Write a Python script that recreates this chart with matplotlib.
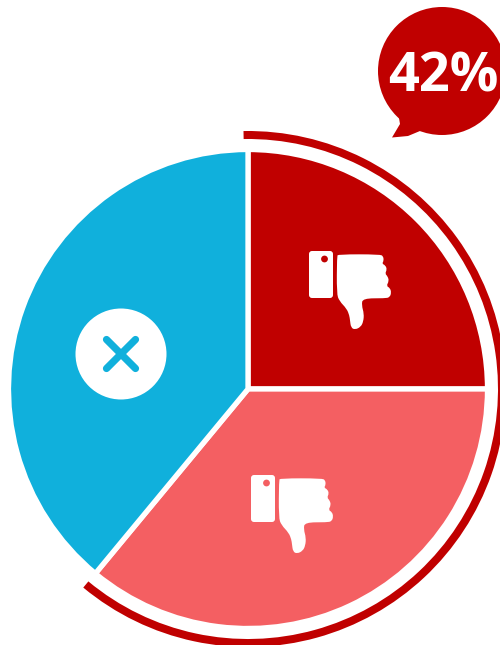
import matplotlib
matplotlib.use("Agg")
import matplotlib.pyplot as plt
from matplotlib.patches import Circle, FancyBboxPatch, PathPatch
from matplotlib.path import Path

# share of each slice, clockwise from the top
slice_values = [25, 36, 39]
slice_colors = ["#C00000", "#F45F62", "#10B0DC"]

# outer ring: covered part and the rest
ring_values = [61.3, 38.7]
bubble_label = "42%"

W, H = 500, 645
RED = "#C00000"
BLUE = "#10B0DC"


# picture pixels (y down) to axes coords (y up)
def py(y):
    return H - y


# hand outline, measured in pixels with the icon corner at 0,0
hand_pts = [(141, 78), (144, 72), (270, 72), (280, 78), (281, 92), (276, 100), (286, 105),
            (291, 117), (285, 130), (293, 138), (297, 152), (289, 167), (300, 173), (304, 187),
            (299, 201), (285, 204), (218, 204), (215, 225), (222, 250), (220, 274), (212, 290),
            (195, 298), (183, 292), (180, 270), (178, 255), (170, 235), (148, 212), (140, 190)]


def thumb_down(ax, x0, y0, hole_color):
    # palm block
    ax.add_patch(FancyBboxPatch((x0 + 2, py(y0 + 45)), 20, 43, boxstyle="round,pad=2,rounding_size=3",
                                fc="white", ec="none", zorder=5))
    ax.add_patch(Circle((x0 + 15.5, py(y0 + 8)), 3.4, fc=hole_color, ec="none", zorder=6))
    # hand, the zoom crop was 3x so scale back down
    pts = [(x0 + (a - 57) / 3, py(y0 + (b - 62) / 3)) for a, b in hand_pts]
    # points act as curve controls, the line goes through the midpoints
    mid = lambda p, q: ((p[0] + q[0]) / 2, (p[1] + q[1]) / 2)
    verts = [mid(pts[-1], pts[0])]
    codes = [Path.MOVETO]
    for i, p in enumerate(pts):
        verts += [p, mid(p, pts[(i + 1) % len(pts)])]
        codes += [Path.CURVE3, Path.CURVE3]
    ax.add_patch(PathPatch(Path(verts, codes), fc="white", ec="none", zorder=5))


fig = plt.figure(figsize=(W / 100, H / 100), dpi=100)
ax = fig.add_axes([0, 0, 1, 1])

# main pie
ax.pie(slice_values, colors=slice_colors, startangle=90, counterclock=False,
       center=(248, py(389)), radius=239.5,
       wedgeprops=dict(edgecolor="white", linewidth=3.8))

# outer ring, second part is not drawn
ring, _ = ax.pie(ring_values, colors=[RED, "none"], startangle=91, counterclock=False,
                 center=(248, py(389)), radius=258, wedgeprops=dict(width=8, edgecolor="none"))

ax.set_xlim(0, W)
ax.set_ylim(0, H)
ax.set_aspect("equal")
ax.axis("off")

# icons on the slices
thumb_down(ax, 309, 251, RED)
thumb_down(ax, 251, 475, slice_colors[1])

ax.add_patch(Circle((121, py(354)), 45.5, fc="white", ec="none", zorder=5))
for dx in (-14.5, 14.5):
    ax.plot([121 - dx, 121 + dx], [py(339.5), py(368.5)], color=BLUE, lw=5.2, solid_capstyle="round", zorder=6)

# speech bubble, runs off the right edge
ax.add_patch(Circle((442, py(71)), 64, fc=RED, ec="none", zorder=3))
tail = [(398, 112), (400, 124), (392, 137.5), (408, 136), (420, 131), (430, 120), (398, 112)]
ax.add_patch(PathPatch(Path([(a, py(b)) for a, b in tail],
                            [Path.MOVETO] + [Path.LINETO] * 5 + [Path.CLOSEPOLY]),
                       fc=RED, ec="none", zorder=3))
ax.text(443.5, py(78), bubble_label, color="white", fontsize=39, fontweight="bold",
        family="Open Sans", ha="center", va="center", zorder=7)

fig.savefig("out.png", dpi=100)
